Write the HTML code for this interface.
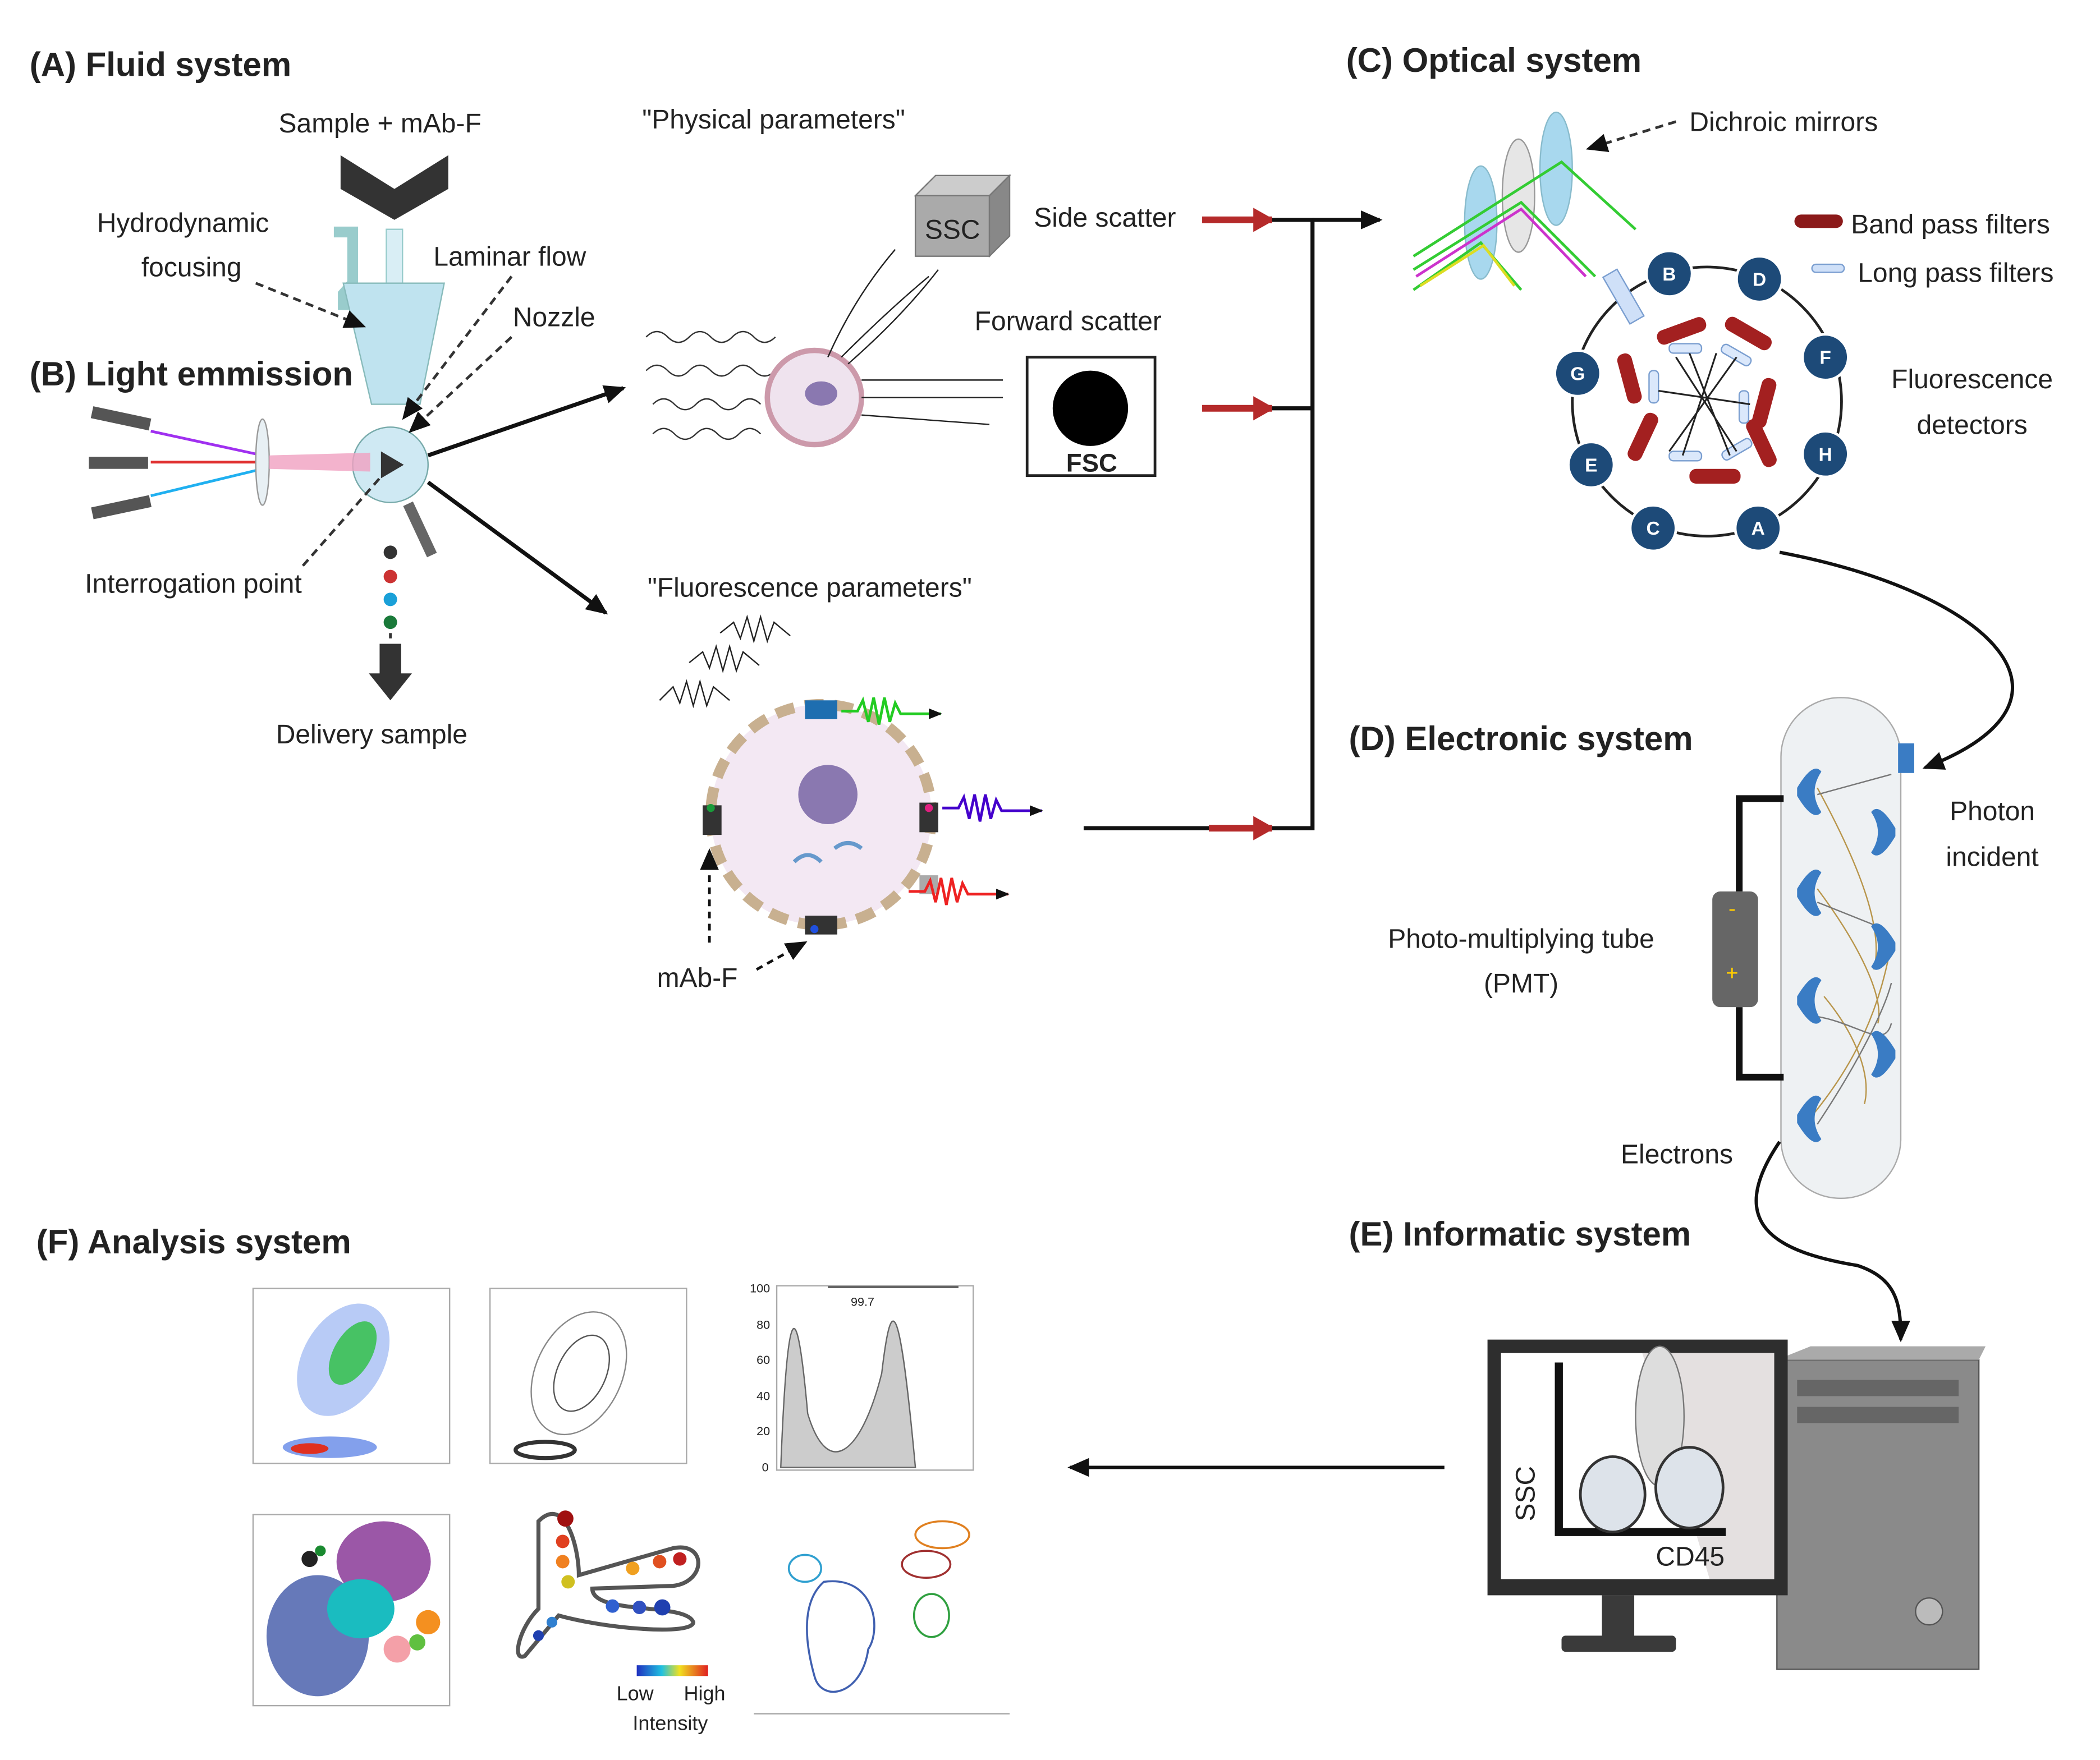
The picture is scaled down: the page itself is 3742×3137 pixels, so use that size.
<!DOCTYPE html>
<html><head><meta charset="utf-8">
<style>
html,body{margin:0;padding:0;background:#fff;}
svg{display:block;}
text{font-family:"Liberation Sans",sans-serif;fill:#222;}
.h{font-weight:bold;font-size:25px;}
.l{font-size:20px;}
</style></head><body>
<svg width="3742" height="3137" viewBox="0 0 1560 1307" xmlns="http://www.w3.org/2000/svg">
<defs>
<marker id="ah" markerUnits="userSpaceOnUse" markerWidth="16" markerHeight="14" refX="14" refY="7" orient="auto"><path d="M0,0 L16,7 L0,14 z" fill="#111"/></marker>
<marker id="sh" markerUnits="userSpaceOnUse" markerWidth="10" markerHeight="8" refX="9" refY="4" orient="auto"><path d="M0,0 L10,4 L0,8 z" fill="#111"/></marker>
<marker id="rh" markerUnits="userSpaceOnUse" markerWidth="16" markerHeight="18" refX="14" refY="9" orient="auto"><path d="M0,0 L16,9 L0,18 z" fill="#b52a2a"/></marker>
</defs>
<rect width="1560" height="1307" fill="#fff"/>

<!-- (A) fluid -->
<text x="22" y="56" class="h">(A) Fluid system</text>
<text x="207" y="98" class="l">Sample + mAb-F</text>
<path d="M253,115 L293,140 L333,115 L333,140 L293,163 L253,140 z" fill="#333"/>
<rect x="287" y="170" width="12" height="60" fill="#d9eef5" stroke="#9cc"/>
<path d="M248,172 L262,172 L262,210 L255,218 L255,230" stroke="#9cc" stroke-width="8" fill="none"/>
<path d="M255,210 L330,210 L312,300 L276,300 z" fill="#bfe3ef" stroke="#8bb"/>
<circle cx="290" cy="345" r="28" fill="#cfe9f3" stroke="#7aa"/>
<path d="M283,335 L300,345 L283,355 z" fill="#333"/>
<text x="72" y="172" class="l">Hydrodynamic</text>
<text x="105" y="205" class="l">focusing</text>
<text x="322" y="197" class="l">Laminar flow</text>
<text x="381" y="242" class="l">Nozzle</text>
<path d="M190,210 L270,242" stroke="#333" stroke-width="2" stroke-dasharray="6,4" marker-end="url(#ah)"/>
<path d="M380,205 L300,310" stroke="#333" stroke-width="2" stroke-dasharray="6,4" marker-end="url(#ah)"/>
<path d="M380,250 L305,320" stroke="#333" stroke-width="2" stroke-dasharray="6,4" marker-end="url(#ah)"/>

<!-- (B) light -->
<text x="22" y="286" class="h">(B) Light emmission</text>
<rect x="68" y="306" width="44" height="9" fill="#555" transform="rotate(12 90 310)"/>
<rect x="66" y="339" width="44" height="9" fill="#555"/>
<rect x="68" y="372" width="44" height="9" fill="#555" transform="rotate(-12 90 376)"/>
<line x1="112" y1="320" x2="195" y2="338" stroke="#a030f0" stroke-width="2"/>
<line x1="112" y1="343" x2="195" y2="343" stroke="#e03030" stroke-width="2"/>
<line x1="112" y1="368" x2="195" y2="348" stroke="#20b0f0" stroke-width="2"/>
<ellipse cx="195" cy="343" rx="5" ry="32" fill="#e8f0f4" stroke="#999"/>
<path d="M200,338 L275,336 L275,350 L200,348" fill="#f0a0c0" opacity=".8"/>
<rect x="308" y="372" width="8" height="42" fill="#666" transform="rotate(-25 312 393)"/>
<text x="63" y="440" class="l">Interrogation point</text>
<path d="M225,420 L282,355" stroke="#333" stroke-width="2" stroke-dasharray="6,4"/>
<circle cx="290" cy="410" r="5" fill="#333"/><circle cx="290" cy="428" r="5" fill="#c33"/>
<circle cx="290" cy="445" r="5" fill="#1aa0d8"/><circle cx="290" cy="462" r="5" fill="#1a7a3a"/>
<path d="M290,470 L290,500" stroke="#333" stroke-width="2" stroke-dasharray="4,4"/>
<path d="M282,478 L298,478 L298,500 L306,500 L290,520 L274,500 L282,500 z" fill="#333"/>
<text x="205" y="552" class="l">Delivery sample</text>
<line x1="318" y1="338" x2="463" y2="288" stroke="#111" stroke-width="3" marker-end="url(#ah)"/>
<line x1="318" y1="358" x2="450" y2="455" stroke="#111" stroke-width="3" marker-end="url(#ah)"/>

<!-- physical -->
<text x="477" y="95" class="l">"Physical parameters"</text>
<path d="M480,250 q8,-8 16,0 t16,0 t16,0 t16,0 t16,0 t16,0 M480,275 q8,-8 16,0 t16,0 t16,0 t16,0 t16,0 t16,0 M485,300 q8,-8 16,0 t16,0 t16,0 t16,0 t16,0 M485,322 q8,-8 16,0 t16,0 t16,0 t16,0 t16,0" stroke="#333" fill="none"/>
<circle cx="605" cy="295" r="35" fill="#efe3ee" stroke="#c9a" stroke-width="4"/>
<ellipse cx="610" cy="292" rx="12" ry="9" fill="#8a78b0"/>
<path d="M640,282 L745,282 M640,295 L745,295 M640,308 L735,315" stroke="#222"/>
<path d="M615,265 Q635,220 665,185 M625,265 Q660,230 690,205 M630,270 Q670,235 697,200" stroke="#222" fill="none"/>
<path d="M680,145 L735,145 L735,190 L680,190 z" fill="#aaa" stroke="#777"/>
<path d="M680,145 L695,130 L750,130 L735,145 z" fill="#ccc" stroke="#777"/>
<path d="M735,145 L750,130 L750,175 L735,190 z" fill="#888" stroke="#777"/>
<text x="687" y="177" font-family="Liberation Serif" font-size="20">SSC</text>
<text x="768" y="168" class="l">Side scatter</text>
<text x="724" y="245" class="l">Forward scatter</text>
<rect x="763" y="265" width="95" height="88" fill="#fff" stroke="#222" stroke-width="2"/>
<circle cx="810" cy="303" r="28" fill="#000"/>
<text x="792" y="350" font-family="Liberation Serif" font-size="19" font-weight="bold">FSC</text>

<!-- red arrows & bracket -->
<line x1="893" y1="163" x2="945" y2="163" stroke="#b52a2a" stroke-width="5" marker-end="url(#rh)"/>
<line x1="893" y1="303" x2="945" y2="303" stroke="#b52a2a" stroke-width="5" marker-end="url(#rh)"/>
<line x1="898" y1="615" x2="945" y2="615" stroke="#b52a2a" stroke-width="5" marker-end="url(#rh)"/>
<line x1="805" y1="615" x2="898" y2="615" stroke="#111" stroke-width="3"/>
<path d="M945,163 L975,163 L975,615 L945,615 M945,303 L975,303" stroke="#111" stroke-width="3" fill="none"/>
<line x1="975" y1="163" x2="1025" y2="163" stroke="#111" stroke-width="3" marker-end="url(#ah)"/>

<!-- fluorescence -->
<text x="481" y="443" class="l">"Fluorescence parameters"</text>
<path d="M490,520 l10,-10 l5,12 l5,-16 l5,18 l5,-18 l5,18 l5,-14 l12,10 M512,492 l10,-8 l5,12 l5,-16 l5,18 l5,-18 l5,18 l5,-14 l12,10 M535,470 l10,-8 l5,12 l5,-16 l5,18 l5,-18 l5,18 l5,-14 l12,10" stroke="#222" fill="none"/>
<circle cx="610" cy="605" r="82" fill="#f3e8f3" stroke="#c8b090" stroke-width="8" stroke-dasharray="14,8"/>
<circle cx="615" cy="590" r="22" fill="#8a78b0"/>
<path d="M590,640 q10,-10 20,0 M620,630 q10,-8 20,0" stroke="#69c" stroke-width="3" fill="none"/>
<rect x="598" y="520" width="24" height="14" fill="#1e6eb0"/><rect x="598" y="680" width="24" height="14" fill="#333"/>
<rect x="522" y="598" width="14" height="22" fill="#333"/><rect x="683" y="596" width="14" height="22" fill="#333"/>
<rect x="683" y="650" width="14" height="14" fill="#aaa"/>
<circle cx="528" cy="600" r="3" fill="#1a9a3a"/><circle cx="690" cy="600" r="3" fill="#e02080"/><circle cx="605" cy="690" r="3" fill="#2050e0"/>
<path d="M625,528 l12,0 l4,-8 l4,16 l4,-18 l4,20 l4,-20 l4,18 l4,-14 l4,8 l30,0" stroke="#2c2" stroke-width="2" fill="none" marker-end="url(#sh)"/>
<path d="M700,600 l12,0 l4,-8 l4,16 l4,-18 l4,20 l4,-20 l4,18 l4,-14 l4,8 l30,0" stroke="#40c" stroke-width="2" fill="none" marker-end="url(#sh)"/>
<path d="M675,662 l12,0 l4,-8 l4,16 l4,-18 l4,20 l4,-20 l4,18 l4,-14 l4,8 l30,0" stroke="#e22" stroke-width="2" fill="none" marker-end="url(#sh)"/>
<text x="488" y="733" class="l">mAb-F</text>
<path d="M527,700 L527,632" stroke="#111" stroke-width="2" stroke-dasharray="5,4" marker-end="url(#ah)"/>
<path d="M562,720 L598,700" stroke="#111" stroke-width="2" stroke-dasharray="5,4" marker-end="url(#ah)"/>

<!-- (C) optical -->
<text x="1000" y="53" class="h">(C) Optical system</text>
<text x="1255" y="97" class="l">Dichroic mirrors</text>
<path d="M1245,90 L1180,110" stroke="#333" stroke-width="2" stroke-dasharray="6,4" marker-end="url(#ah)"/>
<ellipse cx="1100" cy="165" rx="12" ry="42" fill="#a8d8ee" stroke="#8bc"/>
<ellipse cx="1128" cy="145" rx="12" ry="42" fill="#e6e6e6" stroke="#999"/>
<ellipse cx="1156" cy="125" rx="12" ry="42" fill="#a8d8ee" stroke="#8bc"/>
<path d="M1050,190 L1160,120 L1215,170 M1050,200 L1130,150 L1185,205 M1050,215 L1100,180 L1130,215" stroke="#3c3" fill="none" stroke-width="2"/>
<path d="M1052,205 L1130,155 L1178,205" stroke="#c3c" fill="none" stroke-width="2"/>
<path d="M1055,212 L1102,182 L1125,212" stroke="#dd2" fill="none" stroke-width="2"/>
<rect x="1333" y="159" width="36" height="10" rx="5" fill="#8b1a1a"/>
<text x="1375" y="173" class="l">Band pass filters</text>
<rect x="1346" y="196" width="24" height="6" rx="3" fill="#cfe0f8" stroke="#7a9ed0"/>
<text x="1380" y="209" class="l">Long pass filters</text>
<circle cx="1268" cy="298" r="100" fill="#fff" stroke="#222" stroke-width="2"/>
<rect x="1200" y="200" width="12" height="40" fill="#cfe0f8" stroke="#7a9ed0" transform="rotate(-30 1206 220)"/>
<g fill="#a32020">
<rect x="1230" y="240" width="38" height="11" rx="5" transform="rotate(-20 1249 245)"/>
<rect x="1280" y="242" width="38" height="11" rx="5" transform="rotate(30 1299 247)"/>
<rect x="1305" y="280" width="11" height="38" rx="5" transform="rotate(15 1310 299)"/>
<rect x="1303" y="310" width="11" height="38" rx="5" transform="rotate(-25 1308 329)"/>
<rect x="1255" y="348" width="38" height="11" rx="5"/>
<rect x="1215" y="305" width="11" height="38" rx="5" transform="rotate(25 1220 324)"/>
<rect x="1205" y="262" width="11" height="38" rx="5" transform="rotate(-15 1210 281)"/>
</g>
<g fill="#dbe8fb" stroke="#7a9ed0">
<rect x="1240" y="255" width="24" height="7" rx="3"/><rect x="1278" y="260" width="24" height="7" rx="3" transform="rotate(30 1290 263)"/>
<rect x="1292" y="290" width="7" height="24" rx="3"/><rect x="1240" y="335" width="24" height="7" rx="3"/>
<rect x="1225" y="275" width="7" height="24" rx="3"/><rect x="1278" y="330" width="24" height="7" rx="3" transform="rotate(-30 1290 333)"/>
</g>
<path d="M1245,265 L1290,335 M1290,265 L1240,335 M1232,290 L1300,300 M1255,262 L1285,338 M1275,262 L1250,338" stroke="#222" stroke-width="1.3"/>
<g fill="#1d4a78" stroke="#fff" stroke-width="2">
<circle cx="1240" cy="203" r="17"/><circle cx="1307" cy="207" r="17"/><circle cx="1356" cy="265" r="17"/><circle cx="1356" cy="337" r="17"/>
<circle cx="1306" cy="392" r="17"/><circle cx="1228" cy="392" r="17"/><circle cx="1182" cy="345" r="17"/><circle cx="1172" cy="277" r="17"/>
</g>
<g font-family="Liberation Serif" font-size="14" font-weight="bold" text-anchor="middle">
<text x="1240" y="208" style="fill:#fff">B</text><text x="1307" y="212" style="fill:#fff">D</text><text x="1356" y="270" style="fill:#fff">F</text><text x="1356" y="342" style="fill:#fff">H</text>
<text x="1306" y="397" style="fill:#fff">A</text><text x="1228" y="397" style="fill:#fff">C</text><text x="1182" y="350" style="fill:#fff">E</text><text x="1172" y="282" style="fill:#fff">G</text>
</g>
<text x="1465" y="288" class="l" text-anchor="middle">Fluorescence</text>
<text x="1465" y="322" class="l" text-anchor="middle">detectors</text>
<path d="M1322,410 C1480,440 1560,520 1430,570" stroke="#111" stroke-width="2.5" fill="none" marker-end="url(#ah)"/>

<!-- (D) electronic -->
<text x="1002" y="557" class="h">(D) Electronic system</text>
<rect x="1323" y="518" width="89" height="372" rx="44" fill="#eef1f3" stroke="#aaa"/>
<path d="M1350,585 C1380,640 1400,690 1392,720 M1350,660 C1380,700 1400,740 1395,760 M1355,740 C1380,770 1390,800 1385,820 M1345,830 C1370,800 1395,760 1405,700" stroke="#b8954a" fill="none"/>
<path d="M1405,575 L1350,590 M1350,670 L1400,690 M1350,755 C1380,760 1400,780 1405,760 M1350,835 C1380,790 1400,750 1405,730" stroke="#777" fill="none"/>
<g fill="#3a7cc4">
<path d="M1335,585 q12,-20 18,-12 q-10,15 0,30 q-6,8 -18,-12z"/>
<path d="M1335,660 q12,-20 18,-12 q-10,15 0,30 q-6,8 -18,-12z"/>
<path d="M1335,740 q12,-20 18,-12 q-10,15 0,30 q-6,8 -18,-12z"/>
<path d="M1335,828 q12,-20 18,-12 q-10,15 0,30 q-6,8 -18,-12z"/>
<path d="M1408,615 q-12,-20 -18,-12 q10,15 0,30 q6,8 18,-12z"/>
<path d="M1408,700 q-12,-20 -18,-12 q10,15 0,30 q6,8 18,-12z"/>
<path d="M1408,780 q-12,-20 -18,-12 q10,15 0,30 q6,8 18,-12z"/>
<rect x="1410" y="552" width="12" height="22"/>
</g>
<path d="M1325,593 L1292,593 L1292,662 M1292,748 L1292,800 L1325,800" stroke="#111" stroke-width="5" fill="none"/>
<rect x="1272" y="662" width="34" height="86" rx="6" fill="#666"/>
<text x="1284" y="680" font-size="16" style="fill:#fc0">-</text>
<text x="1282" y="728" font-size="16" style="fill:#fc0">+</text>
<text x="1130" y="704" class="l" text-anchor="middle">Photo-multiplying tube</text>
<text x="1130" y="737" class="l" text-anchor="middle">(PMT)</text>
<text x="1480" y="609" class="l" text-anchor="middle">Photon</text>
<text x="1480" y="643" class="l" text-anchor="middle">incident</text>
<text x="1204" y="864" class="l">Electrons</text>
<path d="M1322,848 C1280,910 1320,930 1380,940 C1410,950 1412,970 1412,995" stroke="#111" stroke-width="2.5" fill="none" marker-end="url(#ah)"/>

<!-- (E) informatic -->
<text x="1002" y="925" class="h">(E) Informatic system</text>
<rect x="1320" y="1010" width="150" height="230" fill="#8a8a8a" stroke="#555"/>
<path d="M1320,1010 L1345,1000 L1475,1000 L1470,1010 z" fill="#aaa"/>
<rect x="1335" y="1025" width="120" height="12" fill="#666"/><rect x="1335" y="1045" width="120" height="12" fill="#666"/>
<circle cx="1433" cy="1197" r="10" fill="#bbb" stroke="#555"/>
<rect x="1105" y="995" width="223" height="190" fill="#2e2e2e"/>
<rect x="1115" y="1005" width="203" height="168" fill="#fff"/>
<path d="M1220,1005 L1318,1005 L1318,1173 L1270,1173 L1220,1005z" fill="#e4e0e0"/>
<rect x="1190" y="1185" width="24" height="32" fill="#3a3a3a"/>
<rect x="1160" y="1215" width="85" height="12" rx="3" fill="#3a3a3a"/>
<path d="M1158,1012 L1158,1138 L1282,1138" stroke="#111" stroke-width="6" fill="none"/>
<ellipse cx="1233" cy="1052" rx="18" ry="52" fill="#ddd" stroke="#777"/>
<ellipse cx="1198" cy="1110" rx="24" ry="28" fill="#dde3ea" stroke="#333" stroke-width="2"/>
<ellipse cx="1255" cy="1105" rx="25" ry="30" fill="#dde3ea" stroke="#333" stroke-width="2"/>
<text x="1140" y="1130" font-family="Liberation Serif" font-size="20" transform="rotate(-90 1140 1130)">SSC</text>
<text x="1230" y="1163" font-family="Liberation Serif" font-size="20">CD45</text>
<line x1="1073" y1="1090" x2="795" y2="1090" stroke="#111" stroke-width="2.5" marker-end="url(#ah)"/>

<!-- (F) analysis -->
<text x="27" y="931" class="h">(F) Analysis system</text>
<rect x="188" y="957" width="146" height="130" fill="#fff" stroke="#aaa"/>
<ellipse cx="255" cy="1010" rx="30" ry="45" fill="#88a8f0" opacity=".6" transform="rotate(30 255 1010)"/>
<ellipse cx="262" cy="1005" rx="14" ry="26" fill="#2bbf40" opacity=".8" transform="rotate(30 262 1005)"/>
<ellipse cx="245" cy="1075" rx="35" ry="8" fill="#3060e0" opacity=".6"/>
<ellipse cx="230" cy="1076" rx="14" ry="4" fill="#e03020"/>
<rect x="364" y="957" width="146" height="130" fill="#fff" stroke="#aaa"/>
<ellipse cx="430" cy="1020" rx="32" ry="48" fill="none" stroke="#888" transform="rotate(25 430 1020)"/>
<ellipse cx="432" cy="1020" rx="18" ry="30" fill="none" stroke="#555" transform="rotate(25 432 1020)"/>
<ellipse cx="405" cy="1077" rx="22" ry="6" fill="none" stroke="#333" stroke-width="3"/>
<rect x="577" y="955" width="146" height="137" fill="#fff" stroke="#aaa"/>
<path d="M580,1090 C585,960 592,960 600,1050 C615,1100 640,1080 655,1020 C662,960 668,960 680,1090z" fill="#ccc" stroke="#666"/>
<line x1="615" y1="956" x2="712" y2="956" stroke="#333"/>
<text x="632" y="970" font-size="9">99.7</text>
<g font-size="9"><text x="557" y="960">100</text><text x="562" y="987">80</text><text x="562" y="1013">60</text><text x="562" y="1040">40</text><text x="562" y="1066">20</text><text x="566" y="1093">0</text></g>
<rect x="188" y="1125" width="146" height="142" fill="#fff" stroke="#aaa"/>
<ellipse cx="236" cy="1215" rx="38" ry="45" fill="#4058a8" opacity=".8"/>
<ellipse cx="285" cy="1160" rx="35" ry="30" fill="#8a3a98" opacity=".85"/>
<ellipse cx="268" cy="1195" rx="25" ry="22" fill="#1abcc0"/>
<circle cx="318" cy="1205" r="9" fill="#f49020"/><circle cx="295" cy="1225" r="10" fill="#f4a0a8"/><circle cx="310" cy="1220" r="6" fill="#60c040"/>
<circle cx="230" cy="1158" r="6" fill="#222"/><circle cx="238" cy="1152" r="4" fill="#1a8a30"/>
<path d="M400,1130 C420,1110 430,1150 430,1170 L500,1150 C525,1145 525,1175 500,1178 L440,1180 C440,1200 510,1190 515,1205 C515,1215 450,1210 415,1200 L390,1230 C380,1235 385,1210 400,1195 z" fill="none" stroke="#555" stroke-width="3"/>
<circle cx="420" cy="1128" r="6" fill="#a01010"/><circle cx="418" cy="1145" r="5" fill="#e04020"/><circle cx="418" cy="1160" r="5" fill="#f08020"/><circle cx="422" cy="1175" r="5" fill="#d0c020"/>
<circle cx="470" cy="1165" r="5" fill="#f0a020"/><circle cx="490" cy="1160" r="5" fill="#e05020"/><circle cx="505" cy="1158" r="5" fill="#c02020"/>
<circle cx="455" cy="1193" r="5" fill="#3060d0"/><circle cx="475" cy="1194" r="5" fill="#3050c0"/><circle cx="492" cy="1194" r="6" fill="#2040b0"/>
<circle cx="400" cy="1215" r="4" fill="#2040b0"/><circle cx="410" cy="1205" r="4" fill="#3080d0"/>
<defs><linearGradient id="rb"><stop offset="0" stop-color="#2030c0"/><stop offset=".35" stop-color="#20c0e0"/><stop offset=".6" stop-color="#f0e020"/><stop offset="1" stop-color="#e02020"/></linearGradient></defs>
<rect x="473" y="1237" width="53" height="8" fill="url(#rb)"/>
<text x="458" y="1263" font-size="15">Low</text><text x="508" y="1263" font-size="15">High</text>
<text x="470" y="1285" font-size="15">Intensity</text>
<line x1="560" y1="1273" x2="750" y2="1273" stroke="#aaa"/>
<g fill="none" stroke-width="1.5">
<ellipse cx="598" cy="1165" rx="12" ry="10" stroke="#30a0d0"/>
<path d="M612,1175 C650,1170 655,1210 645,1225 C640,1260 610,1265 605,1245 C598,1220 595,1190 612,1175z" stroke="#4060b0"/>
<ellipse cx="700" cy="1140" rx="20" ry="10" stroke="#e08020"/><ellipse cx="688" cy="1162" rx="18" ry="10" stroke="#a03030"/>
<ellipse cx="692" cy="1200" rx="13" ry="16" stroke="#30a040"/>
</g>
</svg>
</body></html>
